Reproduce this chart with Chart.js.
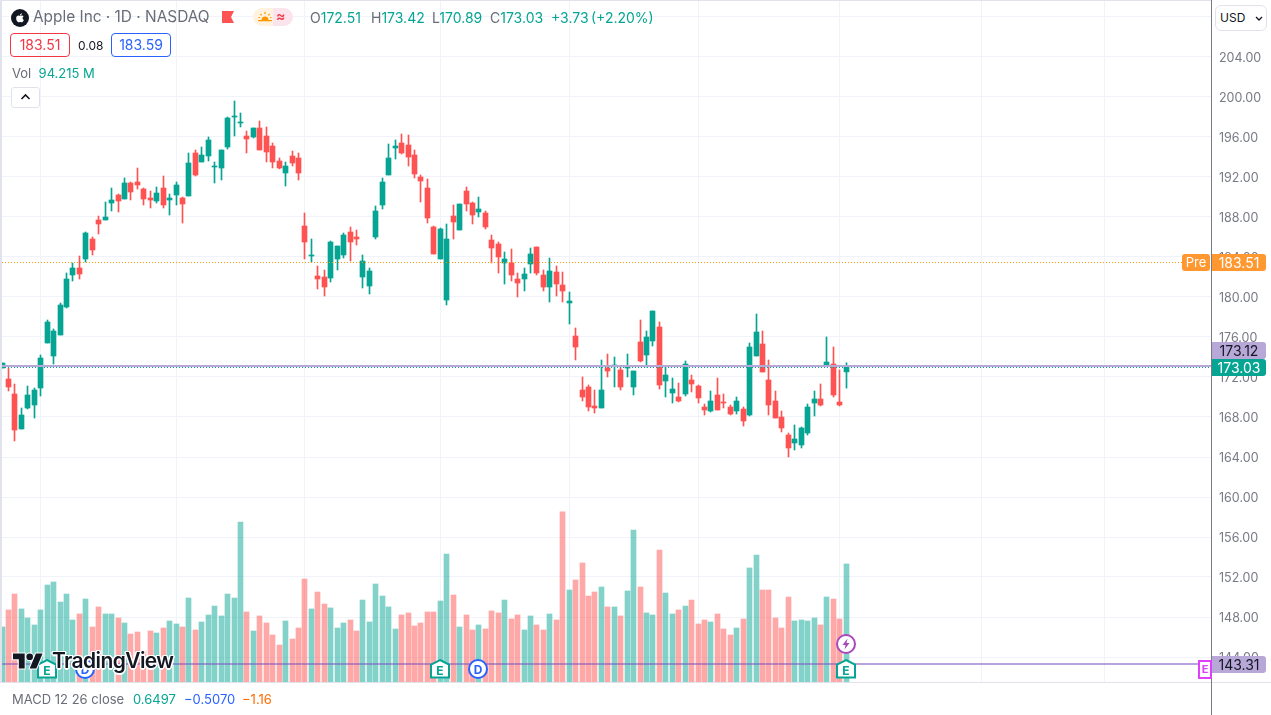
<!DOCTYPE html>
<html>
<head>
<meta charset="utf-8">
<title>Apple Inc 1D</title>
<script src="https://cdn.jsdelivr.net/npm/chart.js@4"></script>
<style>
html, body { margin: 0; padding: 0; background: #fff; overflow: hidden; }
body { width: 1271px; height: 715px; position: relative; font-family: Inter, "Noto Sans", sans-serif; font-size: 13px; color: #6a6d78; }
canvas { position: absolute; left: 0; top: 0; }
.abs { position: absolute; white-space: nowrap; }
.teal { color: #06a593; }
.ohlc { top: 9px; font-size: 14px; line-height: 17px; }
.box { border: 1px solid; border-radius: 4px; text-align: center; box-sizing: border-box; height: 24px; line-height: 22px; width: 60px; top: 33px; font-size: 14px; }
.tag { width: 54px; height: 17px; line-height: 17px; text-align: center; border-radius: 0 3px 3px 0; left: 1212px; color: #fff; font-size: 14px; }
.marker { width: 22px; height: 22px; margin-left: -11px; margin-top: -11px; }
</style>
</head>
<body>
<canvas id="myChart" width="1271" height="715"></canvas>

<div class="abs" style="left:0;top:0;width:1211px;height:1px;background:#e0e3eb"></div>
<div class="abs" style="left:0;top:0;width:2px;height:682px;background:#e0e3eb"></div>
<div class="abs" style="left:0;top:682px;width:1271px;height:1px;background:#e0e3eb"></div>
<div class="abs" style="left:1211px;top:0;width:1px;height:715px;background:#787b86"></div>

<!-- header -->
<svg class="abs" style="left:11px;top:9px" width="18" height="18" viewBox="0 0 16 16">
  <circle cx="8" cy="8" r="8" fill="#131722"/>
  <g transform="translate(2.6,2.4) scale(.45)"><path fill="#fff" d="M17.05 20.28c-.98.95-2.05.8-3.08.35-1.09-.46-2.09-.48-3.24 0-1.44.62-2.2.44-3.06-.35C2.79 15.25 3.51 7.59 9.05 7.31c1.35.07 2.29.74 3.08.8 1.18-.24 2.31-.93 3.57-.84 1.51.12 2.65.72 3.4 1.8-3.12 1.87-2.38 5.98.48 7.13-.57 1.5-1.31 2.99-2.54 4.09zM12.03 7.25c-.15-2.23 1.66-4.07 3.74-4.25.29 2.58-2.34 4.5-3.74 4.25z"/></g>
</svg>
<div class="abs" style="left:33px;top:7px;font-size:15.4px;line-height:20px">Apple Inc · 1D · NASDAQ</div>
<svg class="abs" style="left:222px;top:11px" width="12" height="12"><polygon points="0,0 12,0 9,6 12,12 0,12" fill="#ff5252"/></svg>
<div class="abs" style="left:253px;top:8px;width:20px;height:18px;background:#fff3e0;border-radius:9px 0 0 9px"></div>
<div class="abs" style="left:273px;top:8px;width:20px;height:18px;background:#fce4ec;border-radius:0 9px 9px 0"></div>
<svg class="abs" style="left:258px;top:11px" width="14" height="12" viewBox="0 0 14 12">
  <path d="M3.5 9a3.5 3.5 0 0 1 7 0z" fill="#ff9800"/>
  <path d="M0 9.6h14M7 1v2M2.4 3l1.3 1.4M11.6 3l-1.3 1.4M0.5 6.5h1.5M12 6.5h1.5" stroke="#ff9800" stroke-width="1.2"/>
</svg>
<div class="abs" style="left:276px;top:7px;font-size:14px;line-height:18px;font-weight:600;color:#f23645">≈</div>
<div class="abs ohlc" style="left:310px">O<span class="teal">172.51</span></div>
<div class="abs ohlc" style="left:371px">H<span class="teal">173.42</span></div>
<div class="abs ohlc" style="left:432px">L<span class="teal">170.89</span></div>
<div class="abs ohlc" style="left:490px">C<span class="teal">173.03</span></div>
<div class="abs ohlc teal" style="left:551px">+3.73</div>
<div class="abs ohlc teal" style="left:591px">(+2.20%)</div>
<div class="abs box" style="left:10px;border-color:#f23645;color:#f23645">183.51</div>
<div class="abs" style="left:78px;top:37px;font-size:12px;line-height:17px;color:#131722">0.08</div>
<div class="abs box" style="left:111px;border-color:#2962ff;color:#2962ff">183.59</div>
<div class="abs" style="left:12px;top:65px;line-height:17px">Vol&nbsp; <span class="teal">94.215 M</span></div>
<div class="abs" style="left:11px;top:87px;width:29px;height:21px;box-sizing:border-box;border:1px solid #e0e3eb;border-radius:3px;background:#fff"></div>
<svg class="abs" style="left:20px;top:93px" width="11" height="8"><path d="M1.5 6 L5.5 2 L9.5 6" fill="none" stroke="#131722" stroke-width="1.6"/></svg>
<div class="abs" style="left:1215px;top:5px;width:52px;height:26px;box-sizing:border-box;border:1px solid #e0e3eb;border-radius:6px;background:#fff;color:#131722;font-size:12px;line-height:24px;padding-left:4px">USD</div>
<svg class="abs" style="left:1255px;top:16px" width="8" height="6"><path d="M1 1 L4 4 L7 1" fill="none" stroke="#131722" stroke-width="1.3"/></svg>

<!-- price tags, placed from the y scale -->
<div class="abs tag" id="tagPre" style="background:#ff9830">183.51</div>
<div class="abs" id="tagPreName" style="left:1182px;width:28px;height:17px;line-height:17px;text-align:center;border-radius:3px;background:#ff9830;color:#fff">Pre</div>
<div class="abs tag" id="tagAvg" style="background:#b8a8d8;color:#131722">173.12</div>
<div class="abs tag" id="tagLast" style="background:#06a593">173.03</div>
<div class="abs tag" id="tagLow" style="background:#b8a8d8;color:#131722">143.31</div>
<div class="abs" id="tagLowE" style="left:1198px;width:14px;height:19px;box-sizing:border-box;border:2px solid #e040fb;background:#fff;color:#e040fb;font-size:11px;font-weight:700;line-height:15px;text-align:center">E</div>

<div id="markers"></div>

<!-- watermark -->
<svg class="abs" style="left:13px;top:650px;overflow:visible" width="30" height="23.5" viewBox="0 0 36 28">
  <g fill="#131722" stroke="#fff" stroke-width="2.4" paint-order="stroke">
    <path d="M14 22H7V11H0V4h14v18zM28 22h-8l7.5-18h8L28 22z"/><circle cx="20" cy="8" r="4"/>
  </g>
</svg>
<div class="abs" style="left:52px;top:648px;font-size:21px;line-height:26px;font-weight:600;letter-spacing:-.6px;color:#131722;text-shadow:-1.5px 0 #fff,1.5px 0 #fff,0 -1.5px #fff,0 1.5px #fff,-1px -1px #fff,1px 1px #fff,-1px 1px #fff,1px -1px #fff">TradingView</div>

<!-- bottom pane -->
<div class="abs" style="left:12px;top:691px;line-height:17px">MACD 12 26 close</div>
<div class="abs teal" style="left:133px;top:691px;line-height:17px">0.6497</div>
<div class="abs" style="left:184px;top:691px;line-height:17px;color:#2962ff">−0.5070</div>
<div class="abs" style="left:242px;top:691px;line-height:17px;color:#ff6d00">−1.16</div>

<script>
// daily candles, oldest first
const opens = [172.9,171.8,170.3,166.8,168.9,169.2,170.9,175.4,174.1,176.2,179.0,182.2,182.9,183.8,185.8,187.7,187.7,189.4,190.2,189.8,191.4,191.5,190.8,189.9,189.6,190.9,189.7,190.2,189.9,190.1,194.4,193.5,194.1,193.0,192.9,195.0,198.0,197.4,196.1,196.0,196.9,196.1,195.1,193.6,192.4,194.1,193.9,187.1,184.1,182.1,182.0,181.9,183.8,184.2,186.5,186.0,182.0,181.1,186.0,189.2,192.2,194.9,195.4,195.2,194.2,192.0,190.9,187.0,183.8,179.7,188.1,186.7,190.6,189.4,188.5,188.4,185.7,185.3,183.4,183.4,181.8,181.8,183.3,185.0,182.2,181.0,182.5,181.2,179.4,176.1,170.7,171.0,169.1,168.9,172.9,173.1,172.7,172.9,171.0,175.5,174.2,175.6,177.0,171.6,170.4,170.0,170.3,171.7,171.1,169.0,168.6,170.2,169.5,169.0,168.6,168.8,168.2,174.1,175.3,171.7,169.6,168.0,166.2,165.4,165.2,166.4,169.4,169.8,173.2,173.3,169.5,172.51];
const highs = [173.4,172.9,171.3,168.9,171.1,170.9,174.2,177.7,176.8,179.4,182.4,183.4,184.1,186.5,186.0,188.1,189.5,190.9,190.3,191.9,191.5,192.9,190.9,190.6,191.0,192.1,190.3,191.5,190.0,194.4,194.7,195.0,196.0,193.5,194.7,198.0,199.6,198.4,196.6,196.9,197.6,197.0,195.4,193.9,193.5,194.6,194.4,188.4,185.8,183.1,182.7,185.6,185.1,186.4,187.0,186.7,184.2,182.9,189.1,191.9,195.3,195.7,196.3,196.2,194.7,192.2,191.8,187.1,186.9,187.3,189.2,189.3,191.0,189.5,190.0,188.6,186.2,185.5,184.5,184.8,182.4,182.9,184.9,185.0,182.7,183.9,183.1,182.5,180.5,176.9,172.0,171.2,170.7,173.7,174.3,174.0,173.1,174.3,172.6,177.7,176.6,178.6,177.5,173.0,171.9,171.4,173.6,172.2,171.2,169.3,170.6,171.9,170.3,169.2,170.0,169.0,175.4,178.3,176.6,173.7,170.6,168.6,166.4,167.2,167.0,169.3,170.6,171.3,176.0,175.0,172.7,173.42];
const lows = [172.9,170.6,165.6,166.8,168.8,167.9,170.1,175.4,173.3,176.2,178.9,181.6,181.8,183.5,184.2,186.3,187.7,188.6,188.5,189.8,189.7,190.8,189.2,188.9,189.4,188.9,188.2,189.2,187.4,190.1,192.1,193.5,193.6,191.4,191.7,194.8,196.1,197.0,194.4,195.9,194.7,193.5,192.9,192.8,191.1,193.1,191.7,183.8,183.5,180.8,180.1,181.5,182.7,183.9,183.6,185.2,180.9,180.3,185.8,188.8,192.2,193.8,194.3,193.1,191.9,189.5,187.4,184.3,183.8,179.2,185.8,186.7,188.6,187.3,188.0,186.8,183.4,182.4,181.3,181.6,180.0,180.6,182.4,182.2,180.6,179.5,180.1,179.5,177.3,173.7,169.6,168.6,168.4,168.9,172.0,171.0,170.7,172.0,170.2,173.5,173.0,175.1,170.8,170.0,169.4,169.5,170.1,170.5,169.4,168.2,168.5,168.7,168.9,168.2,168.3,167.1,168.1,174.1,172.5,168.2,167.9,166.5,164.0,164.7,164.9,166.2,168.1,169.1,173.1,170.0,169.1,170.89];
const closes = [173.4,171.0,166.7,168.2,170.2,170.7,173.9,177.5,176.6,179.2,181.8,182.9,182.3,186.4,184.7,187.3,188.0,189.7,189.6,191.4,190.5,191.2,189.8,189.7,190.4,189.2,189.9,191.2,189.3,193.4,192.2,194.2,195.7,193.1,194.7,197.9,198.1,197.5,195.8,196.9,194.7,194.5,193.5,192.9,193.1,193.4,192.4,185.5,184.2,181.8,181.0,185.5,185.1,186.2,185.5,185.8,183.6,182.6,188.6,191.5,193.9,195.1,194.4,194.0,192.3,191.6,187.9,184.3,186.8,185.8,187.5,189.3,189.3,188.2,188.8,187.0,184.9,184.0,183.8,182.2,181.4,182.3,184.3,182.4,181.0,182.6,181.3,180.6,179.6,175.0,170.0,169.0,168.9,170.7,172.6,173.2,171.0,173.0,172.6,173.6,176.0,178.6,171.2,172.2,170.8,169.6,173.3,171.3,169.9,168.7,169.6,168.7,169.4,168.3,169.6,167.6,175.0,176.5,172.5,169.2,167.9,166.9,164.9,165.8,166.9,169.0,169.8,169.2,173.5,170.2,169.2,173.03];
// volume in millions of shares
const volumes = [43.9,57.5,70.2,58.3,51.1,45.5,57.5,77.4,79.8,63.8,70.2,49.5,54.3,66.2,43.9,59.9,54.3,54.3,51.1,47.1,38.3,39.9,24.7,40.7,39.1,43.1,48.7,46.3,43.9,67.0,41.5,47.9,53.5,60.6,52.7,70.2,67.0,127.7,55.9,40.7,52.7,47.1,37.5,29.5,48.7,34.3,43.1,82.2,58.3,71.8,62.2,59.1,43.1,47.1,49.5,40.7,65.4,47.9,78.2,68.6,59.9,42.3,53.5,55.1,44.7,47.1,55.9,55.9,64.6,102.1,69.4,43.9,53.5,41.5,45.5,42.3,56.7,55.1,65.4,50.3,53.5,41.5,52.7,45.5,41.5,54.3,49.5,135.7,73.4,81.4,95.0,68.6,71.8,75.8,59.9,59.9,52.7,72.6,121.3,75.8,55.1,53.5,105.3,71.0,54.3,57.5,60.6,65.4,46.3,49.5,47.9,54.3,42.3,37.5,43.1,50.3,91.0,101.3,73.4,73.4,51.1,43.1,67.8,48.7,49.5,48.7,51.1,45.5,67.8,66.2,50.3,94.2];

const priceTicks = [208,204,200,196,192,188,184,180,176,172,168,164,160,156,152,148,144];
const gridCandles = [6,27,47,68,88,108,130,152,171];   // candles that carry a vertical grid line
const earningsAt = [7,68,131];
const dividendsAt = [13,74];
const splitAt = [131];

const prePrice = 183.51;
const avgPrice = 173.12;
const lastPrice = 173.03;
const lowPrice = 143.31;

const UP = '#06a593', DOWN = '#ff5252';
const lastSlot = 187.6;
const isUp = opens.map((o, i) => closes[i] >= o);

function hline(price, color, width, dash) {
    return {
        type: 'line',
        data: [{x: 0, y: price}, {x: lastSlot, y: price}],
        borderColor: color,
        borderWidth: width,
        borderDash: dash || [],
        pointRadius: 0,
        yAxisID: 'y',
        order: 1
    };
}

// marks come out crisp only on whole pixels
const snapMarks = {
    id: 'snapMarks',
    beforeDatasetDraw(chart, args) {
        let meta = args.meta;
        if (meta.type === 'bar') {
            for (let el of meta.data) el.x = Math.floor(el.x) + 0.5;
        } else {
            let half = meta.dataset.options.borderWidth % 2 ? 0.5 : 0;
            for (let p of meta.data) p.y = Math.round(p.y) + half;
        }
    }
};

let ctx = document.getElementById('myChart').getContext('2d');
let myChart = new Chart(ctx, {
    data: {
        datasets: [
            hline(lowPrice, 'rgba(126,87,194,.55)', 2),
            hline(avgPrice, '#b8a8d8', 2),
            hline(lastPrice, '#06a593', 1, [1, 2]),
            hline(prePrice, '#ff9800', 1, [1, 2]),
            {
                type: 'bar',
                data: opens.map((o, i) => ({x: i, y: [o, closes[i]]})),
                backgroundColor: isUp.map(u => u ? UP : DOWN),
                grouped: false,
                categoryPercentage: 1, barPercentage: 1, maxBarThickness: 5,
                yAxisID: 'y',
                order: 2
            },
            {
                type: 'bar',
                data: lows.map((l, i) => ({x: i, y: [l, highs[i]]})),
                backgroundColor: isUp.map(u => u ? UP : DOWN),
                grouped: false,
                categoryPercentage: 1, barPercentage: 1, maxBarThickness: 1,
                yAxisID: 'y',
                order: 3
            },
            {
                type: 'bar',
                data: volumes.map((v, i) => ({x: i, y: v})),
                backgroundColor: isUp.map(u => u ? 'rgba(6,165,147,.5)' : 'rgba(255,82,82,.5)'),
                grouped: false,
                categoryPercentage: 1, barPercentage: 1, maxBarThickness: 5,
                yAxisID: 'yVol',
                order: 4
            }
        ]
    },
    options: {
        responsive: false,
        animation: false,
        events: [],
        layout: {padding: {left: 2, top: 0, right: 0, bottom: 33}},
        plugins: {legend: {display: false}, tooltip: {enabled: false}},
        scales: {
            x: {
                type: 'linear',
                offset: false,
                min: 0,
                max: lastSlot,
                afterBuildTicks: s => { s.ticks = gridCandles.map(v => ({value: v})); },
                ticks: {display: false},
                grid: {color: '#f0f3fa', drawTicks: false, offset: false},
                border: {display: false}
            },
            y: {
                position: 'right',
                min: 141.5,
                max: 209.7,
                afterBuildTicks: s => { s.ticks = priceTicks.map(v => ({value: v})); },
                afterFit: s => { s.width = 60; s.paddingTop = 0; s.paddingBottom = 0; },
                ticks: {
                    callback: v => v.toFixed(2),
                    color: '#787b86',
                    font: {family: 'Inter', size: 12.5},
                    padding: 8,
                    labelOffset: 1,
                    autoSkip: false
                },
                grid: {color: '#f0f3fa', drawTicks: false},
                border: {display: false}
            },
            yVol: {
                display: false,
                min: 0,
                max: 544.2
            }
        }
    },
    plugins: [snapMarks]
});

// tags and event badges follow the scales
const sx = myChart.scales.x, sy = myChart.scales.y;
function placeTag(id, price, shift) {
    let el = document.getElementById(id);
    el.style.top = (Math.round(sy.getPixelForValue(price)) - Math.floor(el.offsetHeight / 2) + shift) + 'px';
}
placeTag('tagPre', prePrice, 0);
placeTag('tagPreName', prePrice, 0);
placeTag('tagAvg', avgPrice, -16);
placeTag('tagLast', lastPrice, 0);
placeTag('tagLow', lowPrice, 0);
placeTag('tagLowE', lowPrice, 5);

function addMarker(index, price, svg) {
    let m = document.createElement('div');
    m.className = 'abs marker';
    m.style.left = Math.floor(sx.getPixelForValue(index)) + 'px';
    m.style.top = sy.getPixelForValue(price) + 'px';
    m.innerHTML = '<svg width="22" height="22" viewBox="0 0 22 22" style="display:block">' + svg + '</svg>';
    document.getElementById('markers').appendChild(m);
}
const eBadge = '<path d="M11 2 L20 6.5 V19.5 H2 V6.5 Z" fill="#fff" stroke="#06a593" stroke-width="2"/>' +
    '<text x="11" y="17" text-anchor="middle" font-family="Inter" font-size="12" font-weight="700" fill="#06a593">E</text>';
const dBadge = '<circle cx="11" cy="11" r="9" fill="#fff" stroke="#2962ff" stroke-width="2"/>' +
    '<text x="11" y="15.5" text-anchor="middle" font-family="Inter" font-size="12" font-weight="700" fill="#2962ff">D</text>';
const boltBadge = '<circle cx="11" cy="11" r="9" fill="#fff" stroke="#ab47bc" stroke-width="2"/>' +
    '<path d="M12.5 5.5 L7.5 12 H10.5 L9.5 16.5 L14.5 10 H11.5 Z" fill="#ab47bc"/>';
for (let i of earningsAt) addMarker(i, 142.8, eBadge);
for (let i of dividendsAt) addMarker(i, 142.8, dBadge);
for (let i of splitAt) addMarker(i, 145.3, boltBadge);
</script>
</body>
</html>
